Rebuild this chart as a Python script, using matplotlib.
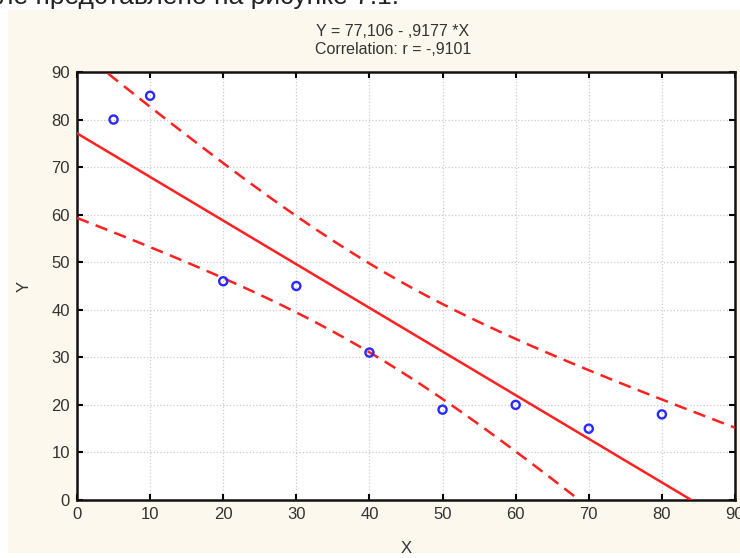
import numpy as np
import matplotlib.pyplot as plt
import matplotlib.patches as mpatches

plt.rcParams['font.family'] = ['Liberation Sans Narrow', 'Liberation Sans', 'DejaVu Sans']

# data
x_vals = [5, 10, 20, 30, 40, 50, 60, 70, 80]
y_vals = [80, 85, 46, 45, 31, 19, 20, 15, 18]
intercept = 77.106
slope = -0.9177
ticks = [0, 10, 20, 30, 40, 50, 60, 70, 80, 90]
t_crit = 2.3646  # t(0.975, df=7)

x = np.array(x_vals, dtype=float)
y = np.array(y_vals, dtype=float)
n = len(x)
fit = intercept + slope * x
s = np.sqrt(np.sum((y - fit) ** 2) / (n - 2))
sxx = np.sum((x - x.mean()) ** 2)
xs = np.linspace(0, 90, 200)
ys = intercept + slope * xs
half = t_crit * s * np.sqrt(1.0 / n + (xs - x.mean()) ** 2 / sxx)

fig = plt.figure(figsize=(7.4, 5.58), dpi=100)
fig.patch.set_facecolor('white')
# cream panel behind the chart
fig.patches.append(mpatches.Rectangle((8 / 740, 5 / 558), 1, 1 - 15 / 558,
                                      transform=fig.transFigure, facecolor='#fdf8ee',
                                      edgecolor='none', zorder=-5))
fig.text(-0.003, 1 - 4 / 558, 'ле представлено на рисунке 7.1.', fontsize=19,
         color='#222222', family=['Liberation Sans', 'DejaVu Sans'], va='baseline',
         zorder=-4)

ax = fig.add_axes([77 / 740, 58 / 558, 658 / 740, 428 / 558])
ax.set_facecolor('white')

ax.plot(xs, ys, color='#ff2020', lw=1.8, zorder=3)
ax.plot(xs, ys + half, color='#ff2020', lw=1.8, ls=(0, (5, 3)), zorder=3)
ax.plot(xs, ys - half, color='#ff2020', lw=1.8, ls=(0, (5, 3)), zorder=3)
ax.scatter(x, y, s=34, facecolors='none', edgecolors='#2a2aff', linewidths=1.7, zorder=4)

ax.set_xlim(0, 90)
ax.set_ylim(0, 90)
ax.set_xticks(ticks)
ax.set_yticks(ticks)
ax.grid(True, color='#cccccc', ls=':', lw=0.9)
ax.set_axisbelow(True)
ax.tick_params(direction='in', length=4, width=1.5, top=True, right=True,
               labelsize=12, labelcolor='#333333', pad=5)
for sp in ax.spines.values():
    sp.set_linewidth(1.8)
    sp.set_color('#111111')

ax.set_xlabel('X', fontsize=12, color='#333333', labelpad=14)
ax.set_ylabel('Y', fontsize=12, color='#333333', labelpad=14)

fig.text(393 / 740, 1 - 31 / 558, 'Y = 77,106 - ,9177 *X', ha='center', va='center',
         fontsize=11.5, color='#333333')
fig.text(393 / 740, 1 - 50 / 558, 'Correlation: r = -,9101', ha='center', va='center',
         fontsize=11.5, color='#333333')

fig.savefig('out.png', dpi=100, facecolor=fig.get_facecolor())
